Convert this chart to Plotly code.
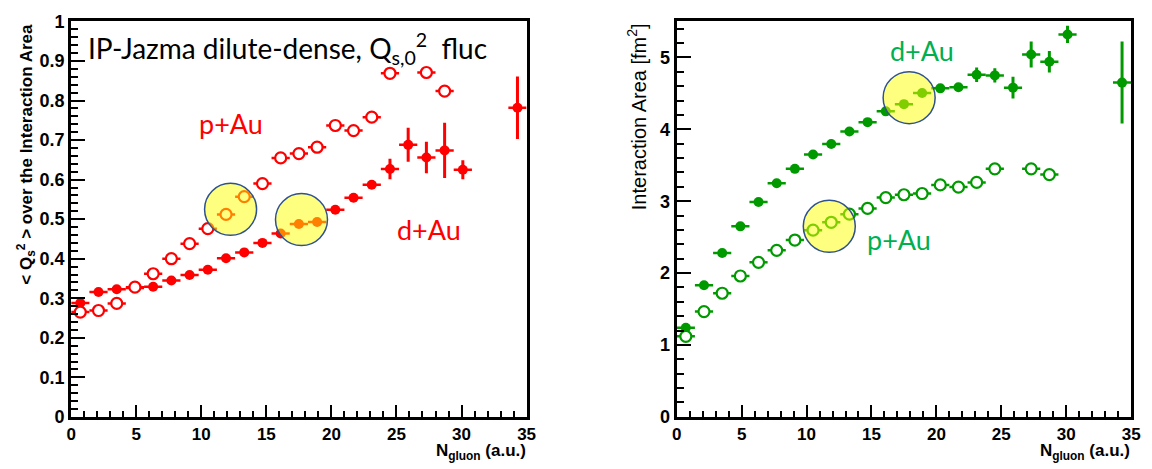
import plotly.graph_objects as go

# ---------------- data ----------------
bins = [0.7, 2.1, 3.5, 4.9, 6.3, 7.7, 9.1, 10.5, 11.9, 13.3, 14.7, 16.1, 17.5,
        18.9, 20.3, 21.7, 23.1, 24.5, 25.9, 27.3, 28.7, 30.1, 31.5, 32.9, 34.3]

# left panel: <Qs^2> over interaction area
pAu_q_x = bins[:18] + bins[19:21]
pAu_q_y = [0.265, 0.269, 0.287, 0.328, 0.362, 0.400, 0.438, 0.476, 0.512, 0.557,
           0.590, 0.655, 0.666, 0.682, 0.737, 0.724, 0.758, 0.869, 0.871, 0.824]
pAu_q_err = [0.003] * 20

dAu_q_x = bins[:22] + [bins[24]]
dAu_q_y = [0.288, 0.316, 0.323, 0.326, 0.329, 0.345, 0.359, 0.372, 0.401, 0.416,
           0.440, 0.464, 0.488, 0.493, 0.524, 0.554, 0.587, 0.627, 0.688, 0.656,
           0.674, 0.625, 0.782]
dAu_q_err = [0.003, 0.003, 0.003, 0.003, 0.003, 0.003, 0.003, 0.003, 0.004, 0.004,
             0.004, 0.005, 0.005, 0.005, 0.006, 0.006, 0.008, 0.026, 0.043, 0.040,
             0.070, 0.024, 0.079]

# right panel: interaction area [fm^2]
pAu_a_x = bins[:18] + bins[19:21]
pAu_a_y = [1.12, 1.465, 1.72, 1.96, 2.15, 2.317, 2.46, 2.597, 2.707, 2.82,
           2.90, 3.05, 3.09, 3.107, 3.227, 3.196, 3.262, 3.45, 3.45, 3.37]
pAu_a_err = [0.01] * 20

dAu_a_x = bins[:22] + [bins[24]]
dAu_a_y = [1.24, 1.83, 2.28, 2.65, 2.99, 3.25, 3.45, 3.65, 3.795, 3.97,
           4.10, 4.25, 4.35, 4.505, 4.57, 4.585, 4.76, 4.75, 4.58, 5.04,
           4.94, 5.32, 4.65]
dAu_a_err = [0.01, 0.01, 0.01, 0.01, 0.01, 0.01, 0.01, 0.02, 0.02, 0.02,
             0.03, 0.03, 0.03, 0.04, 0.04, 0.05, 0.10, 0.10, 0.15, 0.18,
             0.15, 0.12, 0.57]

bin_half = [0.7]

# highlight circles (centers)
hl_left_x = [12.25, 17.7]
hl_left_y = [0.525, 0.499]
hl_right_x = [11.75, 17.9]
hl_right_y = [2.65, 4.44]

RED = "#ff0000"
GREEN = "#009a00"
TXT_GREEN = "#00b050"

fig = go.Figure()


def add_series(x, y, err, color, filled, xa, ya):
    fig.add_trace(go.Scatter(
        x=x, y=y, mode="markers", xaxis=xa, yaxis=ya, showlegend=False,
        error_x=dict(type="constant", value=bin_half[0], color=color, thickness=2.5, width=0),
        error_y=dict(type="data", array=err, color=color, thickness=3, width=0),
        marker=dict(symbol="circle", size=10 if filled else 11,
                    color=color if filled else "white",
                    line=dict(color=color, width=0 if filled else 2.2)),
    ))


add_series(dAu_q_x, dAu_q_y, dAu_q_err, RED, True, "x", "y")
add_series(pAu_q_x, pAu_q_y, pAu_q_err, RED, False, "x", "y")
add_series(dAu_a_x, dAu_a_y, dAu_a_err, GREEN, True, "x2", "y2")
add_series(pAu_a_x, pAu_a_y, pAu_a_err, GREEN, False, "x2", "y2")

for hx, hy, xa, ya in [(hl_left_x, hl_left_y, "x", "y"), (hl_right_x, hl_right_y, "x2", "y2")]:
    fig.add_trace(go.Scatter(
        x=hx, y=hy, mode="markers", xaxis=xa, yaxis=ya, showlegend=False,
        marker=dict(symbol="circle", size=52, color="rgba(255,255,0,0.5)",
                    line=dict(color="#2f528f", width=1.5)),
    ))

W, H = 1152, 469
def px(x):
    return x / W
def py(y):
    return 1 - y / H

tickfont = dict(family="Liberation Sans, Arial", size=18, color="black", weight="bold")
xtickfont = dict(family="Liberation Sans, Arial", size=17, color="black", weight="bold")
axis_common = dict(showgrid=False, zeroline=False, showline=True, linecolor="black",
                   linewidth=3, mirror=True, ticks="inside", tickcolor="black",
                   tickwidth=2)

fig.update_layout(
    width=W, height=H, margin=dict(l=0, r=0, t=0, b=0),
    paper_bgcolor="white", plot_bgcolor="white",
    xaxis=dict(domain=[px(67), px(528)], range=[0, 35], dtick=5, ticklen=12, tickfont=xtickfont,
               minor=dict(dtick=1, ticks="inside", ticklen=6, tickcolor="black", tickwidth=2),
               anchor="y", **axis_common),
    yaxis=dict(domain=[py(425), py(12)], range=[0, 1], dtick=0.1, ticklen=14, tickfont=tickfont,
               minor=dict(dtick=0.02, ticks="inside", ticklen=7, tickcolor="black", tickwidth=2),
               anchor="x", **axis_common),
    xaxis2=dict(domain=[px(680), px(1140)], range=[0, 35], dtick=5, ticklen=12, tickfont=xtickfont,
                minor=dict(dtick=1, ticks="inside", ticklen=6, tickcolor="black", tickwidth=2),
                anchor="y2", **axis_common),
    yaxis2=dict(domain=[py(425), py(12)], range=[0, 5.5], dtick=1, ticklen=14, tickfont=tickfont,
                minor=dict(dtick=0.2, ticks="inside", ticklen=7, tickcolor="black", tickwidth=2),
                anchor="x2", **axis_common),
)

ann_font = "Lato, Noto Sans, sans-serif"
annotations = [
    dict(text="IP-Jazma dilute-dense, Q<sub>s,0</sub><sup>2</sup>  fluc", x=px(82), y=py(40),
         xanchor="left", yanchor="middle", font=dict(family=ann_font, size=28, color="black")),
    dict(text="p+Au", x=px(229), y=py(119), xanchor="center", yanchor="middle",
         font=dict(family=ann_font, size=27, color=RED)),
    dict(text="d+Au", x=px(429), y=py(229), xanchor="center", yanchor="middle",
         font=dict(family=ann_font, size=27, color=RED)),
    dict(text="d+Au", x=px(928), y=py(42), xanchor="center", yanchor="middle",
         font=dict(family=ann_font, size=27, color=TXT_GREEN)),
    dict(text="p+Au", x=px(905), y=py(240), xanchor="center", yanchor="middle",
         font=dict(family=ann_font, size=27, color=TXT_GREEN)),
    dict(text="&lt; Q<sub>s</sub><sup>2</sup> &gt; over the Interaction Area", x=px(22), y=py(12),
         xanchor="center", yanchor="top", textangle=-90,
         font=dict(family="Liberation Sans, Arial", size=17, color="black", weight="bold")),
    dict(text="Interaction Area [fm<sup>2</sup>]", x=px(640), y=py(12),
         xanchor="center", yanchor="top", textangle=-90,
         font=dict(family="Liberation Sans, Arial", size=20, color="black")),
    dict(text="N<sub>gluon</sub> (a.u.)", x=px(529), y=py(448), xanchor="right", yanchor="top",
         font=dict(family="Liberation Sans, Arial", size=17, color="black", weight="bold")),
    dict(text="N<sub>gluon</sub> (a.u.)", x=px(1141), y=py(448), xanchor="right", yanchor="top",
         font=dict(family="Liberation Sans, Arial", size=17, color="black", weight="bold")),
]
for a in annotations:
    a.update(xref="paper", yref="paper", showarrow=False)
fig.update_layout(annotations=annotations)

fig.write_html("out.html")
